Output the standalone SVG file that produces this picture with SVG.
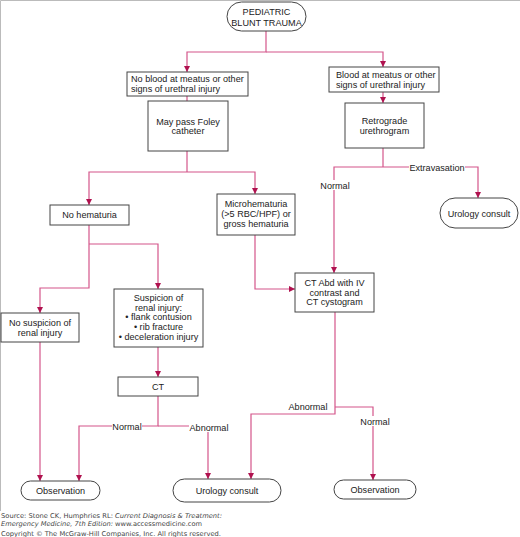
<svg xmlns="http://www.w3.org/2000/svg" width="520" height="537" viewBox="0 0 520 537">
<style>
.b{fill:#fff;stroke:#444;stroke-width:1}
.t{font-family:"Liberation Sans",Arial,sans-serif;font-size:9.1px;fill:#222;text-anchor:middle}
.tl{font-family:"Liberation Sans",Arial,sans-serif;font-size:9.1px;fill:#222}
.c{fill:none;stroke:#d4558a;stroke-width:1.2}
.lb{fill:#fff;stroke:none}
.s{font-family:"DejaVu Sans",Verdana,sans-serif;font-size:6.6px;fill:#444}
</style>
<defs>
<marker id="a" markerUnits="userSpaceOnUse" markerWidth="6" markerHeight="6" refX="6" refY="3" orient="auto">
<path d="M0,0 L6,3 L0,6 z" fill="#b0124f"/>
</marker>
</defs>
<rect width="520" height="537" fill="#fff"/>
<path d="M0.5,511 V0.5 H520" fill="none" stroke="#bbb" stroke-width="1"/>
<g id="connectors">
<path class="c" d="M266,31 V52 H187 V72" marker-end="url(#a)"/>
<path class="c" d="M266,52 H383 V67" marker-end="url(#a)"/>
<path class="c" d="M187,96 V101"/>
<path class="c" d="M187,151 V172"/>
<path class="c" d="M187,172 H89 V205" marker-end="url(#a)"/>
<path class="c" d="M187,172 H255 V194" marker-end="url(#a)"/>
<path class="c" d="M383,92 V103" marker-end="url(#a)"/>
<path class="c" d="M383,148 V167"/>
<path class="c" d="M383,167 H478 V198" marker-end="url(#a)"/>
<path class="c" d="M383,167 H334 V273" marker-end="url(#a)"/>
<path class="c" d="M89,225 V288 H40 V313" marker-end="url(#a)"/>
<path class="c" d="M89,244 H158 V289" marker-end="url(#a)"/>
<path class="c" d="M255,235 V289 H295" marker-end="url(#a)"/>
<path class="c" d="M158,347 V377" marker-end="url(#a)"/>
<path class="c" d="M158,396 V426 H79 V481" marker-end="url(#a)"/>
<path class="c" d="M158,426 H208 V479" marker-end="url(#a)"/>
<path class="c" d="M40,342 V481" marker-end="url(#a)"/>
<path class="c" d="M335,312 V414 H251 V479" marker-end="url(#a)"/>
<path class="c" d="M335,407 H373 V480" marker-end="url(#a)"/>
<rect class="lb" x="409" y="162" width="56" height="10"/>
<text class="t" x="437" y="170.5">Extravasation</text>
<rect class="lb" x="320" y="180" width="30" height="10"/>
<text class="t" x="335" y="188.5">Normal</text>
<rect class="lb" x="112" y="421" width="30" height="10"/>
<text class="t" x="127" y="429.5">Normal</text>
<rect class="lb" x="189" y="422" width="40" height="10"/>
<text class="t" x="209" y="430.5">Abnormal</text>
<text class="t" x="308" y="409.5">Abnormal</text>
<rect class="lb" x="360" y="416" width="30" height="10"/>
<text class="t" x="375" y="424.5">Normal</text>
</g>
<g id="n-start">
<rect class="b" x="227" y="2" width="79" height="29" rx="14.5"/>
<text class="t" x="266.5" y="14.5">PEDIATRIC</text>
<text class="t" x="266.5" y="25.5">BLUNT TRAUMA</text>
</g>
<g id="n-noblood">
<rect class="b" x="127" y="72" width="121" height="24"/>
<text class="tl" x="131" y="82">No blood at meatus or other</text>
<text class="tl" x="131" y="92">signs of urethral injury</text>
</g>
<g id="n-foley">
<rect class="b" x="148" y="101" width="80" height="50"/>
<text class="t" x="188" y="124.5">May pass Foley</text>
<text class="t" x="188" y="134">catheter</text>
</g>
<g id="n-blood">
<rect class="b" x="329" y="67" width="110" height="25"/>
<text class="tl" x="336" y="78">Blood at meatus or other</text>
<text class="tl" x="336" y="88">signs of urethral injury</text>
</g>
<g id="n-rug">
<rect class="b" x="345" y="103" width="79" height="45"/>
<text class="t" x="384.5" y="124">Retrograde</text>
<text class="t" x="384.5" y="134">urethrogram</text>
</g>
<g id="n-uro1">
<rect class="b" x="440" y="198" width="78" height="30" rx="15"/>
<text class="t" x="479" y="216.5">Urology consult</text>
</g>
<g id="n-nohem">
<rect class="b" x="50" y="205" width="79" height="20"/>
<text class="t" x="89.5" y="218">No hematuria</text>
</g>
<g id="n-micro">
<rect class="b" x="217" y="194" width="78" height="41"/>
<text class="t" x="256" y="207">Microhematuria</text>
<text class="t" x="256" y="217">(&gt;5 RBC/HPF) or</text>
<text class="t" x="256" y="226.5">gross hematuria</text>
</g>
<g id="n-nosusp">
<rect class="b" x="1" y="313" width="78" height="29"/>
<text class="t" x="40" y="326">No suspicion of</text>
<text class="t" x="40" y="335.5">renal injury</text>
</g>
<g id="n-susp">
<rect class="b" x="114" y="289" width="89" height="58"/>
<text class="t" x="158.5" y="301">Suspicion of</text>
<text class="t" x="158.5" y="310.5">renal injury:</text>
<text class="t" x="158.5" y="320">• flank contusion</text>
<text class="t" x="158.5" y="330">• rib fracture</text>
<text class="t" x="158.5" y="340">• deceleration injury</text>
</g>
<g id="n-ct">
<rect class="b" x="118" y="377" width="80" height="19"/>
<text class="t" x="158" y="390">CT</text>
</g>
<g id="n-ctabd">
<rect class="b" x="295" y="273" width="79" height="39"/>
<text class="t" x="334.5" y="286">CT Abd with IV</text>
<text class="t" x="334.5" y="295.5">contrast and</text>
<text class="t" x="334.5" y="305">CT cystogram</text>
</g>
<g id="n-obs1">
<rect class="b" x="21" y="481" width="79" height="19" rx="9.5"/>
<text class="t" x="60.5" y="493.5">Observation</text>
</g>
<g id="n-uro2">
<rect class="b" x="173" y="479" width="108" height="23" rx="11.5"/>
<text class="t" x="227" y="493.5">Urology consult</text>
</g>
<g id="n-obs2">
<rect class="b" x="334" y="480" width="82" height="19" rx="9.5"/>
<text class="t" x="375" y="493">Observation</text>
</g>
<g id="source">
<text class="s" x="1" y="518" textLength="221" lengthAdjust="spacingAndGlyphs">Source: Stone CK, Humphries RL: <tspan font-style="italic">Current Diagnosis &amp; Treatment:</tspan></text>
<text class="s" x="1" y="526" textLength="201" lengthAdjust="spacingAndGlyphs"><tspan font-style="italic">Emergency Medicine, 7th Edition:</tspan> www.accessmedicine.com</text>
<text class="s" x="1" y="535.5" textLength="220" lengthAdjust="spacingAndGlyphs">Copyright © The McGraw-Hill Companies, Inc. All rights reserved.</text>
</g>
</svg>
